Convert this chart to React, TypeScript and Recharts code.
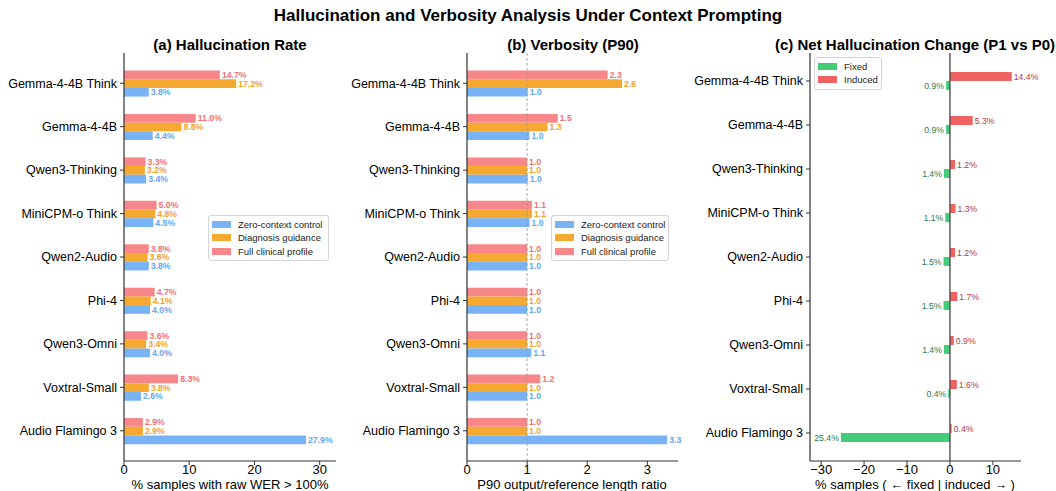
import React from "react";
import { BarChart, Bar, XAxis, YAxis, LabelList, ReferenceLine } from "recharts";

const MODELS = [
  "Gemma-4-4B Think", "Gemma-4-4B", "Qwen3-Thinking", "MiniCPM-o Think", "Qwen2-Audio",
  "Phi-4", "Qwen3-Omni", "Voxtral-Small", "Audio Flamingo 3",
];

// (a) % samples with raw WER > 100%
const RATE_ZERO = [3.8, 4.4, 3.4, 4.5, 3.8, 4.0, 4.0, 2.6, 27.9];
const RATE_DIAG = [17.2, 8.8, 3.2, 4.8, 3.6, 4.1, 3.4, 3.8, 2.9];
const RATE_FULL = [14.7, 11.0, 3.3, 5.0, 3.8, 4.7, 3.6, 8.3, 2.9];

// (b) P90 output/reference length ratio
const VERB_ZERO = [1.01, 1.04, 1.01, 1.04, 1.0, 1.0, 1.07, 1.0, 3.33];
const VERB_DIAG = [2.58, 1.34, 1.0, 1.08, 1.0, 1.0, 1.0, 1.0, 1.0];
const VERB_FULL = [2.34, 1.51, 1.0, 1.08, 1.0, 1.0, 1.0, 1.22, 1.0];

// (c) net change P1 vs P0
const FIXED = [0.9, 0.9, 1.4, 1.1, 1.5, 1.5, 1.4, 0.4, 25.4];
const INDUCED = [14.4, 5.3, 1.2, 1.3, 1.2, 1.7, 0.9, 1.6, 0.4];

const RATE_TICKS = [0, 10, 20, 30];
const VERB_TICKS = [0, 1, 2, 3];
const NET_TICKS = [-30, -20, -10, 0, 10];

const BLUE = "#78B3F6";
const ORANGE = "#F5A930";
const PINK = "#F7878A";
const GREEN = "#45CC78";
const RED = "#F06262";

const FONT = "'Liberation Sans', Arial, sans-serif";
const AXIS = "#333";

const rateData = MODELS.map((name, i) => ({
  name, zero: RATE_ZERO[i], diag: RATE_DIAG[i], full: RATE_FULL[i],
}));
const verbData = MODELS.map((name, i) => ({
  name, zero: VERB_ZERO[i], diag: VERB_DIAG[i], full: VERB_FULL[i],
}));
const netData = MODELS.map((name, i) => ({
  name, fixed: -FIXED[i], induced: INDUCED[i],
}));

const minus = (v: number) => String(v).replace("-", "\u2212");

function endLabel(color: string, fmt: (v: number) => string, bold: boolean, side: "right" | "left") {
  return (props: any) => {
    const x = Number(props.x), y = Number(props.y);
    const w = Number(props.width), h = Number(props.height);
    const lo = Math.min(x, x + w), hi = Math.max(x, x + w);
    return (
      <text
        x={side === "right" ? hi + 2 : lo - 2}
        y={y + h / 2}
        dy="0.35em"
        textAnchor={side === "right" ? "start" : "end"}
        fontSize={8.7}
        fontWeight={bold ? 700 : 400}
        fill={color}
        fontFamily={FONT}
      >
        {fmt(Number(props.value))}
      </text>
    );
  };
}

// plain one-line category tick (no wrapping)
function ModelTick(props: any) {
  return (
    <text x={props.x} y={props.y} dy="0.35em" textAnchor="end" fontSize={12.5} fill="#000" fontFamily={FONT}>
      {props.payload.value}
    </text>
  );
}

const pct = (v: number) => `${Math.abs(v).toFixed(1)}%`;
const one = (v: number) => v.toFixed(1);

function LegendBox({ left, top, width, items }: { left: number; top: number; width: number; items: { label: string; color: string }[] }) {
  return (
    <div
      style={{
        position: "absolute", left, top, width, boxSizing: "border-box",
        border: "1px solid #d4d4d4", borderRadius: 3, background: "rgba(255,255,255,0.85)",
        padding: "2px 3px", fontFamily: FONT,
      }}
    >
      {items.map((it) => (
        <div key={it.label} style={{ display: "flex", alignItems: "center", height: 13.3 }}>
          <span style={{ width: 19, height: 7, background: it.color, marginRight: 7, flex: "none" }} />
          <span style={{ fontSize: 9.5, color: "#222", whiteSpace: "nowrap" }}>{it.label}</span>
        </div>
      ))}
    </div>
  );
}

function Text({ x, y, size, bold, children }: { x: number; y: number; size: number; bold?: boolean; children: React.ReactNode }) {
  return (
    <div
      style={{
        position: "absolute", left: x - 300, top: y - size * 0.6, width: 600, textAlign: "center",
        fontSize: size, fontWeight: bold ? 700 : 400, fontFamily: FONT, color: "#000",
        lineHeight: `${size * 1.2}px`, whiteSpace: "nowrap",
      }}
    >
      {children}
    </div>
  );
}

const xTick = { fontSize: 13, fill: "#000" };

const groupLegend = [
  { label: "Zero-context control", color: BLUE },
  { label: "Diagnosis guidance", color: ORANGE },
  { label: "Full clinical profile", color: PINK },
];

export default function App() {
  return (
    <div style={{ position: "absolute", left: 0, top: 0, width: 1056, height: 491, background: "#fff", overflow: "hidden" }}>
      {/* (a) */}
      <div style={{ position: "absolute", left: 0, top: 0 }}>
        <BarChart
          width={345} height={491} data={rateData} layout="vertical"
          margin={{ top: 53, right: 9, bottom: 0, left: 0 }}
          barGap={0} style={{ fontFamily: FONT }}
        >
          <XAxis
            type="number" domain={[0, 32.5]} ticks={RATE_TICKS} height={30}
            tick={xTick} tickSize={4} tickMargin={0}
            axisLine={{ stroke: AXIS, strokeWidth: 1.2 }} tickLine={{ stroke: AXIS }}
          />
          <YAxis
            type="category" dataKey="name" width={124} padding={{ top: 8.5, bottom: 8.5 }}
            tick={<ModelTick />} tickSize={4} tickMargin={3}
            axisLine={{ stroke: AXIS, strokeWidth: 1.2 }} tickLine={{ stroke: AXIS }}
          />
          <Bar dataKey="full" fill={PINK} barSize={8.7} isAnimationActive={false}>
            <LabelList dataKey="full" content={endLabel("#F07275", pct, true, "right")} />
          </Bar>
          <Bar dataKey="diag" fill={ORANGE} barSize={8.7} isAnimationActive={false}>
            <LabelList dataKey="diag" content={endLabel("#F5A21C", pct, true, "right")} />
          </Bar>
          <Bar dataKey="zero" fill={BLUE} barSize={8.7} isAnimationActive={false}>
            <LabelList dataKey="zero" content={endLabel("#62A6F4", pct, true, "right")} />
          </Bar>
        </BarChart>
      </div>

      {/* (b) */}
      <div style={{ position: "absolute", left: 340, top: 0 }}>
        <BarChart
          width={355} height={491} data={verbData} layout="vertical"
          margin={{ top: 53, right: 17, bottom: 0, left: 0 }}
          barGap={0} style={{ fontFamily: FONT }}
        >
          <XAxis
            type="number" domain={[0, 3.51]} ticks={VERB_TICKS} height={30}
            tick={xTick} tickSize={4} tickMargin={0}
            axisLine={{ stroke: AXIS, strokeWidth: 1.2 }} tickLine={{ stroke: AXIS }}
          />
          <YAxis
            type="category" dataKey="name" width={127} padding={{ top: 8.5, bottom: 8.5 }}
            tick={<ModelTick />} tickSize={4} tickMargin={3}
            axisLine={{ stroke: AXIS, strokeWidth: 1.2 }} tickLine={{ stroke: AXIS }}
          />
          <Bar dataKey="full" fill={PINK} barSize={8.7} isAnimationActive={false}>
            <LabelList dataKey="full" content={endLabel("#F07275", one, true, "right")} />
          </Bar>
          <Bar dataKey="diag" fill={ORANGE} barSize={8.7} isAnimationActive={false}>
            <LabelList dataKey="diag" content={endLabel("#F5A21C", one, true, "right")} />
          </Bar>
          <Bar dataKey="zero" fill={BLUE} barSize={8.7} isAnimationActive={false}>
            <LabelList dataKey="zero" content={endLabel("#62A6F4", one, true, "right")} />
          </Bar>
          <ReferenceLine x={1} stroke="#999" strokeDasharray="3 2" strokeWidth={0.8} />
        </BarChart>
      </div>

      {/* (c) */}
      <div style={{ position: "absolute", left: 680, top: 0 }}>
        <BarChart
          width={376} height={491} data={netData} layout="vertical"
          margin={{ top: 53, right: 35, bottom: 0, left: 0 }}
          barGap={0} style={{ fontFamily: FONT }}
        >
          <XAxis
            type="number" domain={[-32.6, 16.55]} ticks={NET_TICKS} height={30}
            tick={xTick} tickSize={4} tickMargin={0} tickFormatter={minus}
            axisLine={{ stroke: AXIS, strokeWidth: 1.2 }} tickLine={{ stroke: AXIS }}
          />
          <YAxis
            type="category" dataKey="name" width={130} padding={{ top: 6, bottom: 6 }}
            tick={<ModelTick />} tickSize={4} tickMargin={3}
            axisLine={{ stroke: AXIS, strokeWidth: 1.2 }} tickLine={{ stroke: AXIS }}
          />
          <Bar dataKey="induced" fill={RED} barSize={9} isAnimationActive={false}>
            <LabelList dataKey="induced" content={endLabel("#B23A3A", pct, false, "right")} />
          </Bar>
          <Bar dataKey="fixed" fill={GREEN} barSize={9} isAnimationActive={false}>
            <LabelList dataKey="fixed" content={endLabel("#2E7D4F", pct, false, "left")} />
          </Bar>
          <ReferenceLine x={0} stroke="#444" strokeWidth={1.3} />
        </BarChart>
      </div>

      <LegendBox left={208} top={215} width={121} items={groupLegend} />
      <LegendBox left={551} top={215} width={118} items={groupLegend} />
      <LegendBox
        left={814} top={57} width={68}
        items={[{ label: "Fixed", color: GREEN }, { label: "Induced", color: RED }]}
      />

      <Text x={528} y={16} size={17} bold>Hallucination and Verbosity Analysis Under Context Prompting</Text>
      <Text x={230} y={45} size={15} bold>(a) Hallucination Rate</Text>
      <Text x={573} y={45} size={15} bold>(b) Verbosity (P90)</Text>
      <Text x={915} y={45} size={15} bold>(c) Net Hallucination Change (P1 vs P0)</Text>

      <Text x={230} y={485} size={13}>% samples with raw WER &gt; 100%</Text>
      <Text x={572} y={485} size={13}>P90 output/reference length ratio</Text>
      <Text x={915} y={485} size={13}>% samples ( ← fixed | induced → )</Text>
    </div>
  );
}
